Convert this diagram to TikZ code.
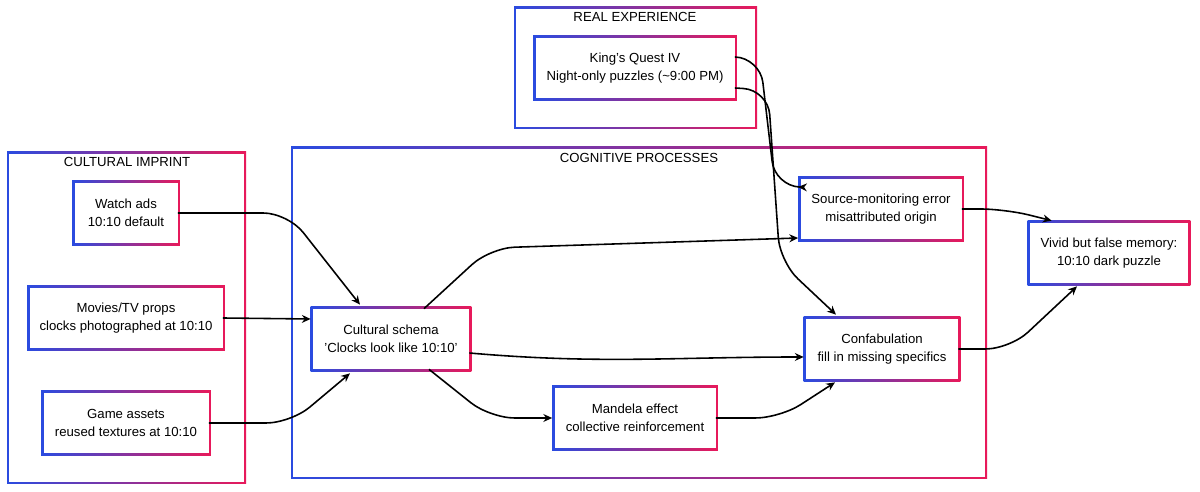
\documentclass[tikz,border=0pt]{standalone}
\usepackage{fontspec}
\setmainfont{Liberation Sans}
\usetikzlibrary{calc,arrows.meta}
\definecolor{gblue}{HTML}{2A4BE0}
\definecolor{gpink}{HTML}{E8195A}
\pgfdeclarelayer{bg}
\pgfdeclarelayer{mid}
\pgfsetlayers{bg,mid,main}
\tikzset{
  box/.style={fill=white,align=center,inner sep=0pt,minimum height=60*0.02cm,
    font=\fontsize{7.5}{10}\selectfont},
  title/.style={font=\fontsize{7.5}{10}\selectfont},
  link/.style={-{Stealth[length=5pt,width=4.5pt]},line width=0.9pt,rounded corners=14pt},
}
\newcommand{\gradbox}[2]{% corners
  \shade[left color=gblue,right color=gpink] #1 rectangle #2;
  \fill[white] ($#1+(1.1pt,-1.1pt)$) rectangle ($#2+(-1.1pt,1.1pt)$);}
\begin{document}
\begin{tikzpicture}[x=0.02cm,y=-0.02cm]
\useasboundingbox (0,0) rectangle (1200,492);
% groups
\begin{pgfonlayer}{bg}
  \gradbox{(514,7)}{(757,129)}
  \gradbox{(7,152)}{(246,484)}
  \gradbox{(291,147)}{(987,479)}
\end{pgfonlayer}
\node[title] (tReal) at (635,17) {REAL EXPERIENCE};
\node[title] (tCult) at (127,162) {CULTURAL IMPRINT};
\node[title] (tCog) at (639,158) {COGNITIVE PROCESSES};
% nodes
\node[box,minimum width=199*0.02cm] (kq) at (635,68) {King's Quest IV\\Night-only puzzles (\textasciitilde9:00 PM)};
\node[box,minimum width=103*0.02cm] (watch) at (126,213) {Watch ads\\10:10 default};
\node[box,minimum width=193*0.02cm] (movies) at (126,318) {Movies/TV props\\clocks photographed at 10:10};
\node[box,minimum width=165*0.02cm] (game) at (126,423) {Game assets\\reused textures at 10:10};
\node[box,minimum width=156*0.02cm] (schema) at (391,339) {Cultural schema\\'Clocks look like 10:10'};
\node[box,minimum width=161*0.02cm] (source) at (881,209) {Source-monitoring error\\misattributed origin};
\node[box,minimum width=152*0.02cm] (confab) at (882,349) {Confabulation\\fill in missing specifics};
\node[box,minimum width=161*0.02cm] (mandela) at (635,418) {Mandela effect\\collective reinforcement};
\node[box,minimum width=158*0.02cm] (vivid) at (1109,253) {Vivid but false memory:\\10:10 dark puzzle};
\begin{pgfonlayer}{mid}
  \foreach \n in {kq,watch,movies,game,schema,source,confab,mandela,vivid}{
    \shade[left color=gblue,right color=gpink]
      ([xshift=-1.1pt,yshift=1.1pt]\n.north west) rectangle ([xshift=1.1pt,yshift=-1.1pt]\n.south east);
  }
\end{pgfonlayer}
% links
\draw[link] (watch.east) -- ++(110,0) -- ($(schema.north)+(-31,-4)$);
\draw[link] (movies.east) -- ($(schema.west)+(-2,-20)$);
\draw[link] (game.east) -- ++(82,0) -- ($(schema.south)+(-41,4)$);
\draw[link] ($(schema.north)+(33,0)$) -- (490,248) -- ($(source.west)+(-2,29)$);
\draw[link] ($(schema.east)+(0,14)$) to[out=-5,in=180] ($(confab.west)+(-2,8)$);
\draw[link] ($(schema.south)+(38,0)$) -- (490,418) -- ($(mandela.west)+(-2,0)$);
\draw[link] (mandela.east) -- (780,418) -- ($(confab.south)+(-47,3)$);
\draw[link] ($(kq.east)+(0,-11)$) -- (760,58) -- (775,186) -- ($(source.west)+(-2,-22)$);
\draw[link] ($(kq.east)+(0,20)$) -- (768,90) -- (780,262) -- ($(confab.north)+(-46,-4)$);
\draw[link] (source.east) -- (1005,209) -- ($(vivid.north west)+(22,-2)$);
\draw[link] (confab.east) -- (1010,349) -- ($(vivid.south)+(-32,3)$);
\end{tikzpicture}
\end{document}
